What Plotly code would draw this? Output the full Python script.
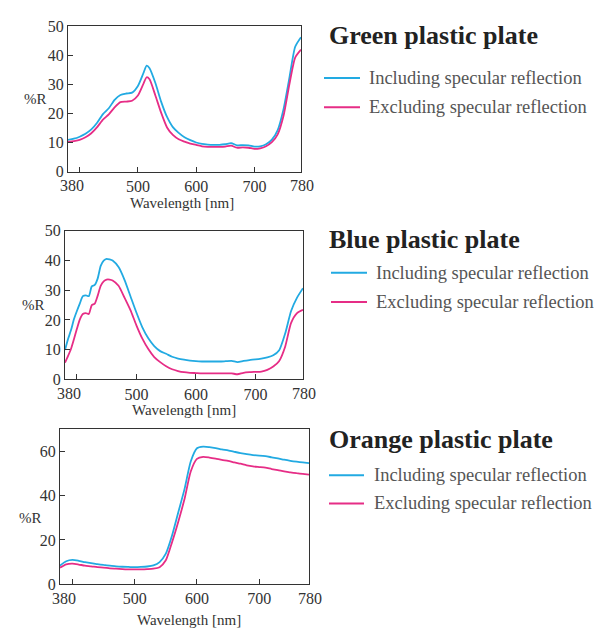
import plotly.graph_objects as go

# ---- spectral reflectance data (%R) ----
wl_green = [380, 390, 400, 410, 420, 430, 440, 450, 460, 470, 480, 490, 500, 510, 515,
            520, 530, 540, 550, 560, 570, 580, 590, 600, 610, 620, 630, 640, 650, 660,
            670, 680, 690, 700, 710, 720, 730, 740, 750, 760, 770, 780]
green_incl = [10.9, 11.3, 12.0, 13.0, 14.5, 16.8, 19.8, 21.8, 24.7, 26.4, 26.9, 27.2, 29.5, 34.2, 36.5,
              35.6, 30.5, 24.0, 18.8, 15.3, 13.3, 11.8, 10.8, 10.0, 9.5, 9.3, 9.2, 9.2, 9.4, 9.8,
              9.0, 9.1, 9.0, 8.6, 8.7, 9.4, 11.0, 14.3, 21.5, 32.2, 43.0, 46.3]
green_excl = [10.2, 10.5, 10.9, 11.8, 13.2, 15.3, 17.9, 19.7, 22.1, 23.9, 24.1, 24.4, 26.2, 30.5, 32.5,
              31.8, 26.2, 20.2, 15.2, 12.6, 11.1, 10.3, 9.6, 9.2, 8.7, 8.5, 8.5, 8.5, 8.6, 8.9,
              8.2, 8.3, 8.2, 7.8, 8.0, 8.7, 10.1, 12.8, 19.2, 30.0, 39.3, 42.0]

wl_blue = [380, 385, 390, 395, 400, 405, 410, 415, 420, 425, 430, 435, 440, 445, 450, 455, 460,
           470, 480, 490, 500, 510, 520, 530, 540, 550, 560, 570, 580, 590, 600, 610, 620, 630,
           640, 650, 660, 670, 680, 690, 700, 710, 720, 730, 740, 750, 760, 770, 780]
blue_incl = [9.9, 13.5, 16.5, 20.2, 23.0, 25.6, 28.0, 28.3, 28.0, 31.3, 31.8, 34.0, 38.2, 40.0, 40.6, 40.4, 40.0,
             37.8, 33.5, 28.0, 22.5, 17.5, 13.8, 11.2, 9.5, 8.6, 7.6, 7.0, 6.6, 6.3, 6.1, 6.0, 6.0, 6.0,
             6.0, 6.1, 6.2, 5.8, 6.2, 6.5, 6.7, 7.0, 7.4, 8.1, 9.8, 15.4, 23.0, 27.5, 30.7]
blue_excl = [5.6, 7.8, 10.2, 13.5, 17.0, 20.2, 22.0, 22.3, 22.0, 25.0, 25.5, 28.2, 31.5, 33.0, 33.6, 33.6, 33.3,
             31.5, 27.5, 23.3, 18.2, 13.7, 10.2, 7.5, 5.8, 4.4, 3.4, 2.8, 2.4, 2.2, 2.1, 2.0, 2.0, 2.0,
             2.0, 2.0, 2.0, 1.7, 2.2, 2.4, 2.5, 2.6, 3.2, 4.3, 6.2, 11.0, 19.0, 22.3, 23.4]

wl_orange = list(range(380, 781, 10))
orange_incl = [8.4, 10.4, 11.0, 10.6, 10.0, 9.5, 9.1, 8.7, 8.4, 8.1, 7.9, 7.8, 7.7, 7.8, 8.0, 8.5,
               10.0, 13.8, 22.0, 32.5, 43.0, 55.5, 61.5, 62.2, 62.0, 61.6, 61.0, 60.5, 59.9, 59.3,
               58.8, 58.4, 58.2, 57.9, 57.4, 56.9, 56.3, 55.8, 55.4, 55.1, 54.8]
orange_excl = [7.5, 9.0, 9.3, 8.9, 8.4, 8.1, 7.7, 7.5, 7.2, 7.0, 6.8, 6.7, 6.7, 6.7, 6.8, 7.0,
               7.7, 10.8, 19.0, 28.3, 38.5, 51.0, 56.7, 57.6, 57.3, 56.8, 56.2, 55.8, 55.1, 54.5,
               53.8, 53.3, 53.0, 52.7, 52.1, 51.6, 51.0, 50.6, 50.2, 49.9, 49.6]

panel_titles = ["Green plastic plate", "Blue plastic plate", "Orange plastic plate"]
series_names = ["Including specular reflection", "Excluding specular reflection"]
# inner ticks (400 carries a mark but no label); the range ends get their own labels
x_tickvals = [400, 500, 600, 700]
x_ticktext = ["", "500", "600", "700"]
x_end_labels = [380, 780]

# ---- styling ----
W, H = 597, 637
INCL_COLOR = "#22aae2"
EXCL_COLOR = "#e62d86"
SERIF = "Liberation Serif"
AXIS_COLOR = "#333333"


def px(x):
    return x / W


def py(y):
    return 1 - y / H


panels = [
    dict(wl=wl_green, incl=green_incl, excl=green_excl, box=(68, 301, 19, 168),
         yrange=[0, 50], ytick=10, title=panel_titles[0], title_xy=(327, 28),
         leg_line=(324, 360), leg_text=367, leg_rows=(72, 102),
         xlab=(182, 200), ylab=(35, 94)),
    dict(wl=wl_blue, incl=blue_incl, excl=blue_excl, box=(65, 303, 229, 381.5),
         yrange=[0, 50], ytick=10, title=panel_titles[1], title_xy=(327, 238),
         leg_line=(331, 367), leg_text=374, leg_rows=(272, 302),
         xlab=(184, 413), ylab=(33, 305)),
    dict(wl=wl_orange, incl=orange_incl, excl=orange_excl, box=(60, 309, 433, 592),
         yrange=[0, 70], ytick=20, title=panel_titles[2], title_xy=(327, 443),
         leg_line=(329, 364), leg_text=372, leg_rows=(480, 509),
         xlab=(189, 629), ylab=(30, 524)),
]

fig = go.Figure()
layout = dict(
    width=W, height=H, margin=dict(l=0, r=0, t=0, b=0),
    paper_bgcolor="white", plot_bgcolor="white", showlegend=False,
    font=dict(family=SERIF, size=16, color=AXIS_COLOR),
)
annotations = []
shapes = []

for i, p in enumerate(panels, start=1):
    sfx = "" if i == 1 else str(i)
    x0, x1, y0, y1 = p["box"]
    for vals, color in ((p["incl"], INCL_COLOR), (p["excl"], EXCL_COLOR)):
        fig.add_trace(go.Scatter(
            x=p["wl"], y=vals, mode="lines",
            line=dict(color=color, width=1.8, shape="spline", smoothing=0.6),
            xaxis="x" + sfx, yaxis="y" + sfx, hoverinfo="skip",
        ))
    layout["xaxis" + sfx] = dict(
        domain=[px(x0), px(x1)], anchor="y" + sfx, range=[380, 780],
        tickvals=x_tickvals, ticktext=x_ticktext, ticks="inside", ticklen=5,
        tickwidth=1.3, tickcolor=AXIS_COLOR, showline=True, mirror=True,
        linecolor=AXIS_COLOR, linewidth=1, showgrid=False, zeroline=False,
        tickfont=dict(family=SERIF, size=16, color=AXIS_COLOR),
    )
    layout["yaxis" + sfx] = dict(
        domain=[py(y1), py(y0)], anchor="x" + sfx, range=p["yrange"],
        dtick=p["ytick"], tick0=0, ticks="inside", ticklen=5, tickwidth=1.3,
        tickcolor=AXIS_COLOR, showline=True, mirror=True, linecolor=AXIS_COLOR,
        linewidth=1, showgrid=False, zeroline=False,
        tickfont=dict(family=SERIF, size=16, color=AXIS_COLOR),
    )

    # range-end wavelength labels, nudged inward so they clear the y labels
    for wl_end, shift in zip(x_end_labels, (4, 1)):
        annotations.append(dict(
            text=str(wl_end), xref="x" + sfx, yref="y" + sfx, x=wl_end, y=p["yrange"][0],
            xanchor="center", yanchor="middle", xshift=shift, yshift=-14,
            showarrow=False, borderpad=0,
            font=dict(family=SERIF, size=16, color=AXIS_COLOR)))

    # axis labels
    annotations.append(dict(
        text="Wavelength [nm]", xref="paper", yref="paper",
        x=px(p["xlab"][0]), y=py(p["xlab"][1]), xanchor="center", yanchor="middle",
        showarrow=False, borderpad=0,
        font=dict(family=SERIF, size=15, color=AXIS_COLOR)))
    annotations.append(dict(
        text="%R", xref="paper", yref="paper",
        x=px(p["ylab"][0]), y=py(p["ylab"][1]), xanchor="center", yanchor="middle",
        showarrow=False, borderpad=0,
        font=dict(family=SERIF, size=15, color=AXIS_COLOR)))

    # panel heading
    annotations.append(dict(
        text="<b>%s</b>" % p["title"], xref="paper", yref="paper",
        x=px(p["title_xy"][0]), y=py(p["title_xy"][1]), xanchor="left", yanchor="middle",
        showarrow=False, font=dict(family=SERIF, size=26, color="#222222")))

    # legend rows
    for name, color, row_y in zip(series_names, (INCL_COLOR, EXCL_COLOR), p["leg_rows"]):
        shapes.append(dict(
            type="line", xref="paper", yref="paper",
            x0=px(p["leg_line"][0]), x1=px(p["leg_line"][1]), y0=py(row_y), y1=py(row_y),
            line=dict(color=color, width=2)))
        annotations.append(dict(
            text=name, xref="paper", yref="paper",
            x=px(p["leg_text"]), y=py(row_y), xanchor="left", yanchor="middle",
            showarrow=False, font=dict(family=SERIF, size=18.5, color="#555555")))

layout["annotations"] = annotations
layout["shapes"] = shapes
fig.update_layout(**layout)
fig.write_html("out.html")
